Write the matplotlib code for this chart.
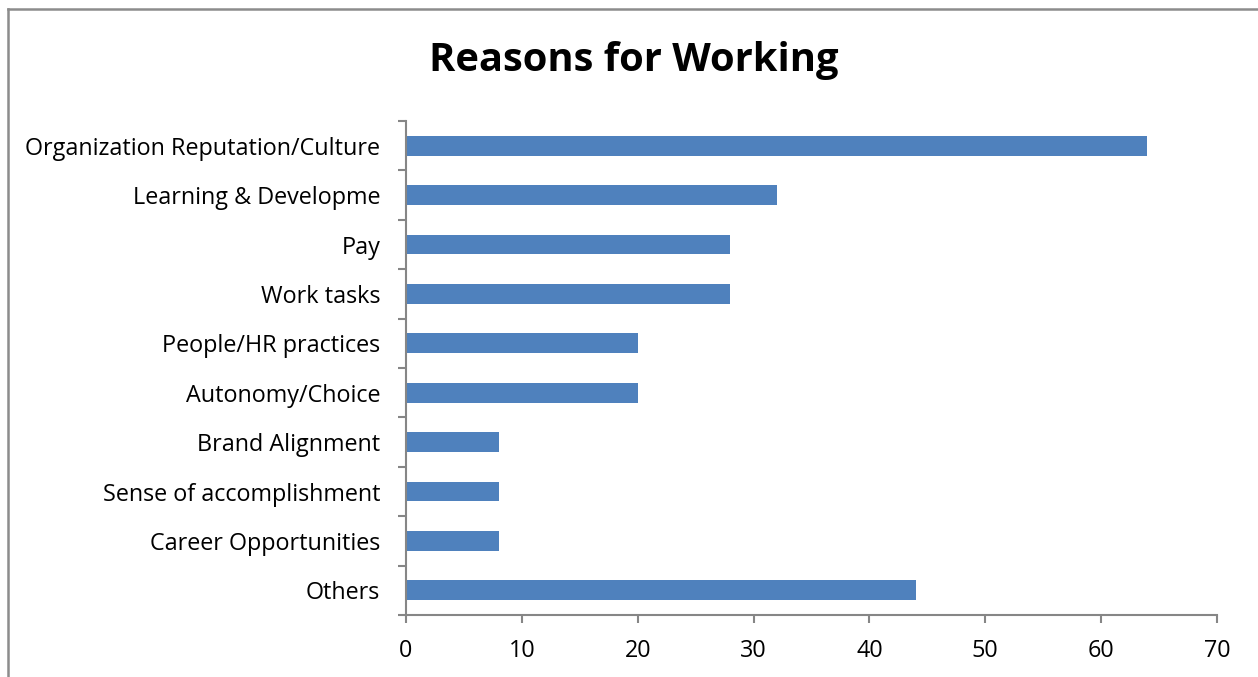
import matplotlib
matplotlib.use("Agg")
import matplotlib.pyplot as plt
from matplotlib.lines import Line2D
import numpy as np

categories = [
    "Organization Reputation/Culture",
    "Learning & Developme",
    "Pay",
    "Work tasks",
    "People/HR practices",
    "Autonomy/Choice",
    "Brand Alignment",
    "Sense of accomplishment",
    "Career Opportunities",
    "Others",
]
values = [64, 32, 28, 28, 20, 20, 8, 8, 8, 44]
x_ticks = [0, 10, 20, 30, 40, 50, 60, 70]

plt.rcParams["font.family"] = ["Open Sans", "DejaVu Sans"]

W, H = 1258, 677
fig = plt.figure(figsize=(W / 100, H / 100), dpi=100)
fig.patch.set_facecolor("white")

ax = fig.add_axes([406 / W, 1 - 615 / H, (1217 - 406) / W, (615 - 121) / H])

pos = np.arange(len(categories))
ax.barh(pos, values, height=0.4, color="#4F81BD", zorder=2)

ax.set_xlim(0, 70)
ax.set_ylim(len(categories) - 0.5, -0.5)
ax.set_xticks(x_ticks)
ax.set_xticklabels([str(t) for t in x_ticks], fontsize=16.8)
ax.set_yticks(pos)
ax.set_yticklabels(categories, fontsize=16.8)
ax.set_yticks(np.arange(len(categories) + 1) - 0.5, minor=True)

axis_color = "#868686"
for side in ("top", "right"):
    ax.spines[side].set_visible(False)
for side in ("left", "bottom"):
    ax.spines[side].set_color(axis_color)
    ax.spines[side].set_linewidth(1.5)

ax.tick_params(axis="y", which="major", length=0, pad=18.5)
ax.tick_params(axis="y", which="minor", length=6, width=1.5, color=axis_color, direction="out")
ax.tick_params(axis="x", which="major", length=6, width=1.5, color=axis_color,
               direction="out", pad=11)

fig.text(634 / W, 1 - 61 / H, "Reasons for Working", fontsize=28.7, fontweight="bold",
         ha="center", va="center")

# chart area frame (left and top edges)
fig.add_artist(Line2D([8 / W, 8 / W], [1 - 9 / H, 0], transform=fig.transFigure,
                      color="#8C8C8C", linewidth=1.8))
fig.add_artist(Line2D([8 / W, 1], [1 - 9 / H, 1 - 9 / H], transform=fig.transFigure,
                      color="#8C8C8C", linewidth=1.8))

fig.savefig("out.png", dpi=100)
